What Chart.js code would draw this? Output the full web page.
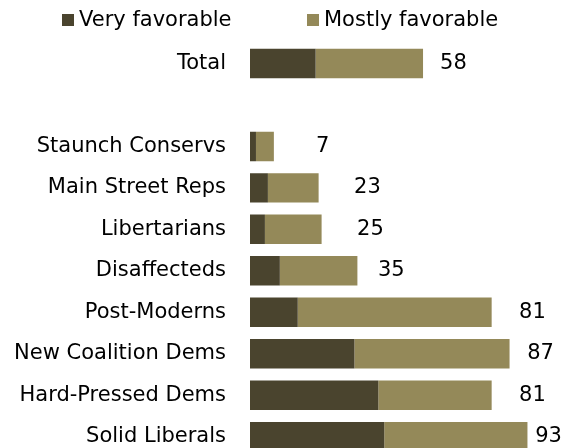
<!DOCTYPE html>
<html>
<head>
<meta charset="utf-8">
<script src="https://cdn.jsdelivr.net/npm/chart.js@4"></script>
<style>
  html, body { margin: 0; padding: 0; background: #fff; overflow: hidden; }
  canvas { display: block; }
</style>
</head>
<body>
<!-- taller than the window: the last row is cut off at the bottom, as in the original -->
<canvas id="favChart" width="574" height="494"></canvas>
<script>
// Segments, top to bottom (blank row separates Total from the groups)
const categories = ["Total", "", "Staunch Conservs", "Main Street Reps", "Libertarians",
  "Disaffecteds", "Post-Moderns", "New Coalition Dems", "Hard-Pressed Dems", "Solid Liberals"]
const veryFavorable = [22, null, 2, 6, 5, 10, 16, 35, 43, 45]
const mostlyFavorable = [36, null, 6, 17, 19, 26, 65, 52, 38, 48]
const totals = ["58", "", "7", "23", "25", "35", "81", "87", "81", "93"]
// where each total label starts, in axis units
const labelPos = [63.7, null, 22.1, 34.9, 35.9, 42.9, 90.2, 92.9, 90.2, 95.6]

const FONT = "DejaVu Sans, Verdana, sans-serif"
const DARK = "#4a442e"
const LIGHT = "#948959"

// totals printed to the right of the bars
const totalLabels = {
  id: "totalLabels",
  afterDatasetsDraw(chart) {
    const ctx = chart.ctx
    const x = chart.scales.x
    const y = chart.scales.y
    ctx.save()
    ctx.font = "21px " + FONT
    ctx.fillStyle = "#000"
    ctx.textAlign = "left"
    ctx.textBaseline = "middle"
    totals.forEach((t, i) => {
      if (!t) return
      ctx.fillText(t, x.getPixelForValue(labelPos[i]), y.getPixelForValue(i))
    })
    ctx.restore()
  },
}

// legend drawn by hand so the spacing matches the original
const topLegend = {
  id: "topLegend",
  afterDraw(chart) {
    const ctx = chart.ctx
    const starts = [62, 307]
    ctx.save()
    ctx.font = "21px " + FONT
    ctx.textBaseline = "middle"
    chart.data.datasets.forEach((ds, i) => {
      ctx.fillStyle = ds.backgroundColor
      ctx.fillRect(starts[i], 14, 12, 12)
      ctx.fillStyle = "#000"
      ctx.fillText(ds.label, starts[i] + 17, 21)
    })
    ctx.restore()
  },
}

new Chart(document.getElementById("favChart"), {
  type: "bar",
  data: {
    labels: categories,
    datasets: [
      { label: "Very favorable", data: veryFavorable, backgroundColor: DARK },
      { label: "Mostly favorable", data: mostlyFavorable, backgroundColor: LIGHT },
    ],
  },
  options: {
    indexAxis: "y",
    responsive: false,
    animation: false,
    layout: { padding: { top: 42.75, left: 0, right: 0, bottom: 0 } },
    datasets: { bar: { categoryPercentage: 1, barPercentage: 0.71, borderWidth: 0 } },
    plugins: {
      legend: { display: false },
      tooltip: { enabled: false },
    },
    scales: {
      x: {
        stacked: true,
        min: 0,
        max: 108.6,
        display: false,
      },
      y: {
        stacked: true,
        grid: { display: false, drawTicks: false },
        border: { display: false },
        ticks: {
          padding: 24,
          color: "#000",
          font: { family: FONT, size: 21 },
        },
        afterFit(scale) {
          scale.width = 250
        },
      },
    },
  },
  plugins: [totalLabels, topLegend],
})
</script>
</body>
</html>
